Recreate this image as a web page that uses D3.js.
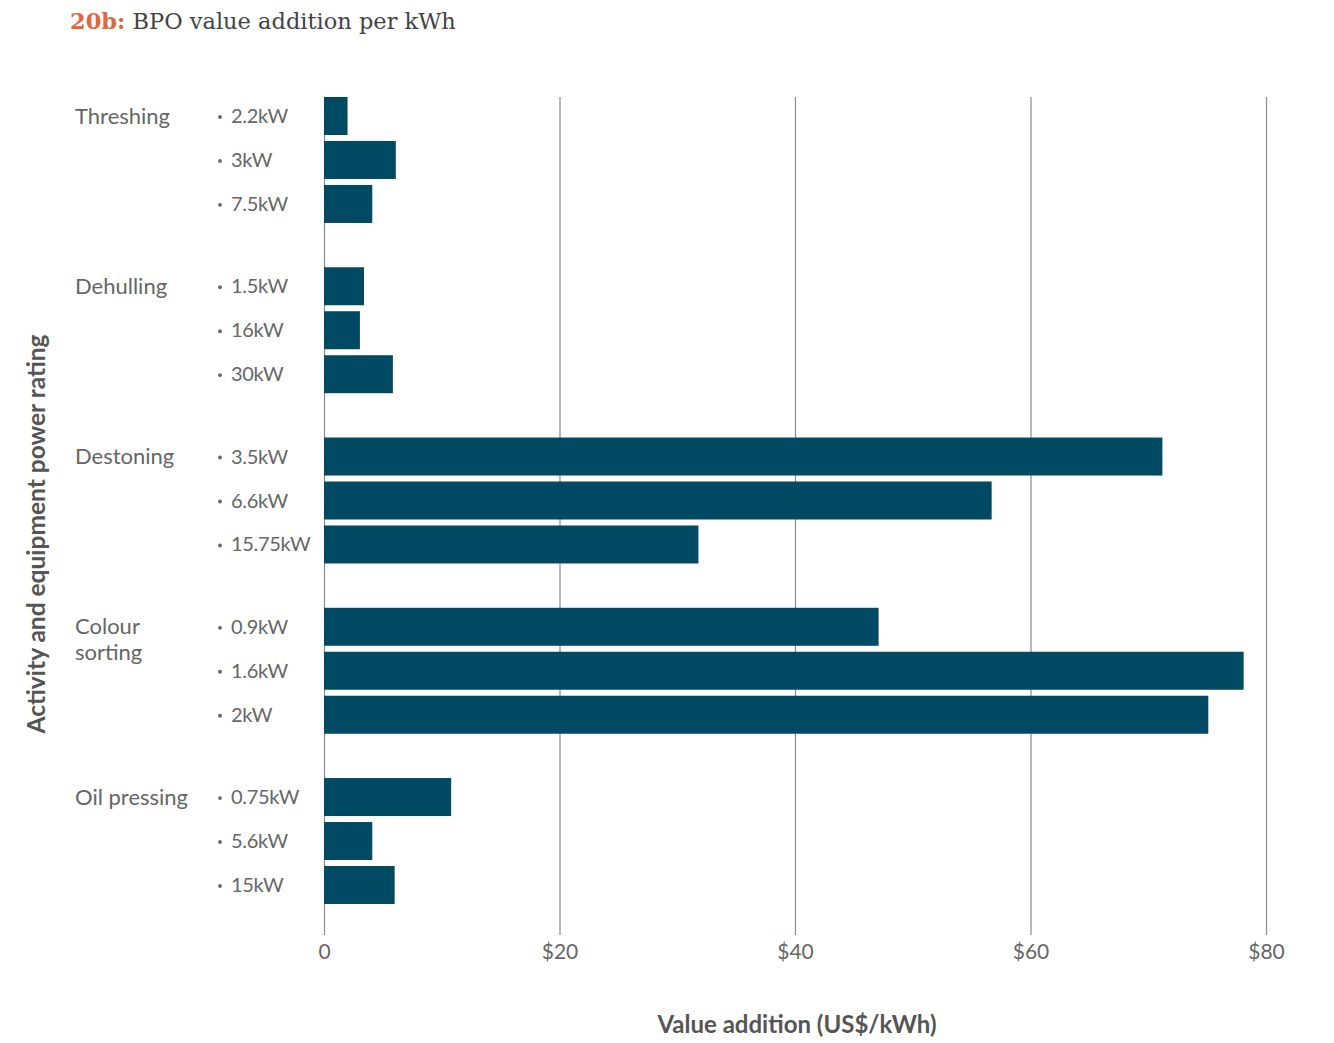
<!DOCTYPE html>
<html><head><meta charset="utf-8">
<script src="https://cdn.jsdelivr.net/npm/d3@7"></script>
<style>body{margin:0;background:#fff}svg{display:block}</style>
</head><body>
<svg id="c" width="1334" height="1043"></svg>
<script>
const groups = ["Threshing", "Dehulling", "Destoning", "Colour sorting", "Oil pressing"];
const ratings = [
  ["2.2kW", "3kW", "7.5kW"],
  ["1.5kW", "16kW", "30kW"],
  ["3.5kW", "6.6kW", "15.75kW"],
  ["0.9kW", "1.6kW", "2kW"],
  ["0.75kW", "5.6kW", "15kW"]
];
const values = [
  [2.0, 6.1, 4.1],
  [3.4, 3.05, 5.85],
  [71.2, 56.7, 31.8],
  [47.1, 78.1, 75.1],
  [10.8, 4.1, 6.0]
];
const xTicks = [0, 20, 40, 60, 80];

const svg = d3.select("#c");
const font = "Lato, 'Open Sans', sans-serif";
const x = d3.scaleLinear().domain([0, 80]).range([324, 1266]);
const yG = d3.scaleBand().domain(groups).range([94, 907]).paddingInner(0.225).paddingOuter(0);
const yI = d3.scaleBand().domain([0, 1, 2]).range([0, yG.bandwidth()]).paddingInner(0.136).paddingOuter(0.068);

// title
const t = svg.append("text").attr("x", 70).attr("y", 29).attr("font-family", "'DejaVu Serif', 'Liberation Serif', serif").attr("font-size", 22.5);
t.append("tspan").attr("fill", "#e0673f").attr("font-weight", "bold").text("20b:");
t.append("tspan").attr("fill", "#444").text(" BPO value addition per kWh");

// grid + axis
const ax = svg.append("g").attr("transform", "translate(0,97)")
  .call(d3.axisBottom(x).tickValues(xTicks).tickSize(838).tickSizeOuter(0)
    .tickFormat(d => d === 0 ? "0" : "$" + d));
ax.select(".domain").remove();
ax.selectAll(".tick line").attr("stroke", "#8a8a8a").attr("stroke-width", 1.2);
ax.selectAll(".tick text").attr("fill", "#666").attr("font-family", font).attr("font-size", 21).attr("dy", "0.9em").attr("y", 843);

// bars
groups.forEach((g, gi) => {
  const gy = yG(g);
  values[gi].forEach((v, i) => {
    const cy = gy + yI(i) + yI.bandwidth() / 2;
    svg.append("rect")
      .attr("x", x(0)).attr("y", gy + yI(i))
      .attr("width", x(v) - x(0)).attr("height", yI.bandwidth())
      .attr("fill", "#024a63");
    svg.append("circle").attr("cx", 220).attr("cy", cy + 1).attr("r", 1.9).attr("fill", "#666");
    svg.append("text")
      .attr("x", 231).attr("y", cy)
      .attr("dy", "0.35em").attr("fill", "#666").attr("font-family", font).attr("font-size", 20)
      .attr("letter-spacing", -0.3)
      .text(ratings[gi][i]);
  });
  const words = g === "Colour sorting" ? ["Colour", "sorting"] : [g];
  const lt = svg.append("text").attr("x", 75).attr("y", gy + yI(0) + yI.bandwidth() / 2)
    .attr("fill", "#666").attr("font-family", font).attr("font-size", 22);
  words.forEach((w, wi) => lt.append("tspan").attr("x", 75).attr("dy", wi === 0 ? "0.35em" : "1.18em").text(w));
});

// axis titles
svg.append("text").attr("x", 797).attr("y", 1033).attr("text-anchor", "middle")
  .attr("fill", "#555").attr("font-family", font).attr("font-weight", "bold").attr("font-size", 24)
  .text("Value addition (US$/kWh)");
svg.append("text").attr("transform", "translate(45,534) rotate(-90)").attr("text-anchor", "middle")
  .attr("fill", "#555").attr("font-family", font).attr("font-weight", "bold").attr("font-size", 24.5)
  .text("Activity and equipment power rating");
</script>
</body></html>
